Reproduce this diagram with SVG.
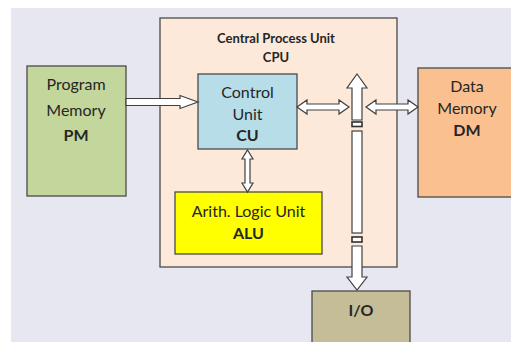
<svg xmlns="http://www.w3.org/2000/svg" width="511" height="342" viewBox="0 0 511 342">
<style>
.box{stroke:#4a4a4a;stroke-width:1.3}
.t{font-family:Lato,"Liberation Sans",sans-serif;font-size:16px;fill:#262626;text-anchor:middle}
.b{font-weight:bold}
.s{font-size:13px}
.arr{fill:#ffffff;stroke:#404040;stroke-width:1.2;stroke-linejoin:miter}
.brk{fill:#ffffff;stroke:#303030;stroke-width:1.6}
</style>
<rect x="0" y="0" width="511" height="342" fill="#ffffff"/>
<rect x="11" y="8" width="500" height="334" fill="#e7e7f1"/>
<g id="cpu">
<rect class="box" x="160" y="18" width="237" height="249" fill="#fde9d9"/>
<text class="t b s" x="276" y="43">Central Process Unit</text>
<text class="t b s" x="276" y="62">CPU</text>
</g>
<g id="pm">
<rect class="box" x="27" y="66" width="99" height="130" fill="#c3d69b"/>
<text class="t" x="76" y="90">Program</text>
<text class="t" x="76" y="116">Memory</text>
<text class="t b" x="76" y="141">PM</text>
</g>
<g id="cu">
<rect class="box" x="198" y="74" width="99" height="75" fill="#b7dee8"/>
<text class="t" x="247.5" y="98">Control</text>
<text class="t" x="247.5" y="120">Unit</text>
<text class="t b" x="247.5" y="141">CU</text>
</g>
<g id="alu">
<rect class="box" x="175" y="192" width="147" height="62" fill="#ffff00"/>
<text class="t" x="248.5" y="217">Arith. Logic Unit</text>
<text class="t b" x="248.5" y="239">ALU</text>
</g>
<g id="dm">
<rect class="box" x="418" y="68" width="104" height="129" fill="#fac090"/>
<text class="t" x="467" y="92">Data</text>
<text class="t" x="467" y="114">Memory</text>
<text class="t b" x="467" y="136">DM</text>
</g>
<g id="io">
<rect class="box" x="312" y="291" width="98" height="60" fill="#c4bd97"/>
<text class="t b" x="361" y="316">I/O</text>
</g>
<g id="connectors">
<path class="arr" d="M126,98.5 H180 V95.5 L198,102 L180,108.5 V105.5 H126 Z"/>
<path class="arr" d="M297,107 L307,100 V104 H339 V100 L349,107 L339,114 V110 H307 V114 Z"/>
<path class="arr" d="M366,107 L376,100 V104 H408 V100 L418,107 L408,114 V110 H376 V114 Z"/>
<path class="arr" d="M247.5,150 L253,159 H250 V183 H253 L247.5,192 L242,183 H245 V159 H242 Z"/>
<path class="arr" d="M357,74 L367,88 H362 V120 H352 V88 H347 Z"/>
<rect class="brk" x="352" y="122" width="10" height="4.5"/>
<rect class="arr" x="352" y="131" width="10" height="102"/>
<rect class="brk" x="352" y="237" width="10" height="5"/>
<path class="arr" d="M352,246 H362 V277 H367 L357,290 L347,277 H352 Z"/>
</g>
</svg>
